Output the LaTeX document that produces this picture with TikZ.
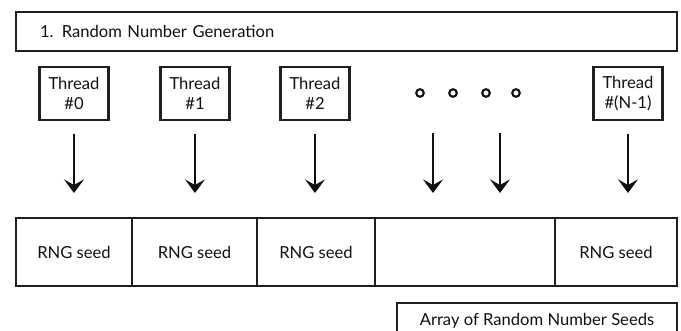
\documentclass[tikz,border=0pt]{standalone}
\usepackage{fontspec}
\setmainfont{Lato}
\usetikzlibrary{arrows.meta,positioning}
\definecolor{ink}{HTML}{111111}
\definecolor{pencil}{HTML}{1F1F1F}
\tikzset{
  every node/.style={font=\fontsize{11.8}{14}\selectfont,text=ink,inner sep=0pt},
  banner/.style={draw=pencil,line width=1.5pt,fill=white},
  threadbox/.style={draw=pencil,line width=1.5pt,minimum width=1.725cm,minimum height=1.325cm,align=center},
  cellbox/.style={draw=pencil,line width=1.8pt,minimum height=1.7cm,outer sep=0pt},
  flow/.style={-{Stealth[length=3.4mm,width=5mm,inset=1.4mm]},line width=1.9pt,draw=ink},
  dot/.style={circle,draw=ink,line width=1.5pt,minimum size=1.9mm},
}

\begin{document}
\begin{tikzpicture}[x=1cm,y=1cm]
\path[use as bounding box] (0,0) rectangle (17.025,8.25);
\clip (0,0) rectangle (17.025,8.25);
% Heading strip across the top
\node[banner,text width=15.325cm,inner xsep=.6cm,minimum height=.975cm,align=left] (title) at (8.6625,7.4625) {1. Random Number Generation};
% One box per thread, the gap stands for the threads in between
\foreach \x/\n/\t in {1.85/t0/\#0,4.875/t1/\#1,7.875/t2/\#2,15.7/tn/\#(N-1)}{
  \node[threadbox] (\n) at (\x,5.9125) {Thread\\\t};
}
\foreach \x [count=\i] in {10.5,11.325,12.15,12.9}{
  \node[dot] (dot\i) at (\x,5.925) {};
}
% The seed array, cells side by side
\node[cellbox,minimum width=2.9cm] (c1) at (1.85,1.95) {RNG seed};
\node[cellbox,minimum width=3.125cm,right=0pt of c1] (c2) {RNG seed};
\node[cellbox,minimum width=2.95cm,right=0pt of c2] (c3) {RNG seed};
\node[cellbox,minimum width=4.5cm,right=0pt of c3] (c4) {};
\node[cellbox,minimum width=3.05cm,right=0pt of c4] (c5) {RNG seed};
% Every thread writes its own seed
\coordinate (tipline) at (0,3.425);
\coordinate (d1) at (10.825,4.925);
\coordinate (d2) at (12.5,4.925);
\foreach \n in {t0,t1,t2,tn}{
  \draw[flow,shorten <=3.3mm] (\n) -- (\n |- tipline);
}
\foreach \n in {d1,d2}{
  \draw[flow] (\n) -- (\n |- tipline);
}
% Caption box, runs off the lower edge
\node[banner,minimum width=7cm,minimum height=.9cm] (seeds) at (13.425,.225) {Array of Random Number Seeds};
\end{tikzpicture}
\end{document}
